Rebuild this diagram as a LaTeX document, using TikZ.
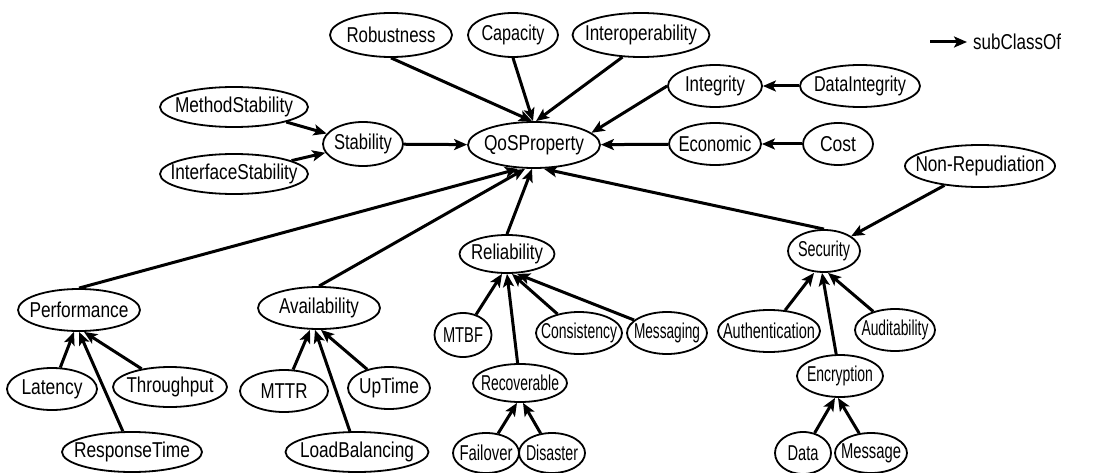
\documentclass[tikz,border=0pt]{standalone}
\usepackage{fontspec}
\usepackage{graphicx}
\setmainfont{Liberation Sans}
\usetikzlibrary{shapes.geometric,arrows.meta}
% label squeezed to a given width, taking no room of its own
\newcommand\nt[2]{\makebox[0pt]{\resizebox{#1pt}{\height}{#2}}}
\begin{document}
\begin{tikzpicture}[x=1pt,y=-1pt,
  cls/.style={ellipse, draw, line width=1.8pt, inner sep=0pt, fill=white,
              font=\fontsize{21.5}{24}\selectfont, minimum height=42pt},
  sub/.style={line width=3pt, -{Stealth[length=13pt,width=11pt,inset=3pt]}},
]
\fill[white] (0,0) rectangle (1099,473);
\useasboundingbox (0,0) rectangle (1099,473);

% top row
\node[cls, minimum width=122pt, minimum height=44pt] (rob)   at (391,35) {\nt{89}{Robustness}};
\node[cls, minimum width=90pt,  minimum height=44pt] (cap)   at (513,35) {\nt{63}{Capacity}};
\node[cls, minimum width=137pt, minimum height=44pt] (inter) at (641,35) {\nt{112}{Interoperability}};
% middle band
\node[cls, minimum width=94pt]  (integ)  at (715,86)  {\nt{60}{Integrity}};
\node[cls, minimum width=120pt] (dint)   at (860,86)  {\nt{92}{DataIntegrity}};
\node[cls, minimum width=92pt]  (econ)   at (715,144) {\nt{73}{Economic}};
\node[cls, minimum width=70pt]  (cost)   at (838,144) {\nt{36}{Cost}};
\node[cls, minimum width=150pt] (nonrep) at (980,166) {\nt{129}{Non-Repudiation}};
\node[cls, minimum width=132pt, minimum height=46pt] (qos)  at (534,145) {\nt{100}{QoSProperty}};
\node[cls, minimum width=80pt,  minimum height=44pt] (stab) at (363,144) {\nt{58}{Stability}};
\node[cls, minimum width=148pt, minimum height=40pt] (mstab) at (234,107) {\nt{118}{MethodStability}};
\node[cls, minimum width=148pt, minimum height=40pt] (istab) at (234,174) {\nt{127}{InterfaceStability}};
% performance branch
\node[cls, minimum width=122pt] (perf)  at (79,310)  {\nt{99}{Performance}};
\node[cls, minimum width=90pt]  (lat)   at (52,389)  {\nt{61}{Latency}};
\node[cls, minimum width=114pt, minimum height=40pt] (thr)  at (170,387) {\nt{87}{Throughput}};
\node[cls, minimum width=140pt, minimum height=40pt] (resp) at (132,452) {\nt{116}{ResponseTime}};
% availability branch
\node[cls, minimum width=122pt] (avail) at (319,308) {\nt{80}{Availability}};
\node[cls, minimum width=88pt]  (mttr)  at (284,391) {\nt{47}{MTTR}};
\node[cls, minimum width=82pt]  (up)    at (389,388) {\nt{60}{UpTime}};
\node[cls, minimum width=143pt, minimum height=40pt] (lb) at (357,452) {\nt{114}{LoadBalancing}};
% reliability branch
\node[cls, minimum width=95pt, minimum height=38pt] (rel) at (507,254) {\nt{72}{Reliability}};
\node[cls, minimum width=57pt, minimum height=44pt] (mtbf) at (463,335) {\nt{40}{MTBF}};
\node[cls, minimum width=86pt]  (cons)  at (579,333) {\nt{76}{Consistency}};
\node[cls, minimum width=80pt]  (msg)   at (667,333) {\nt{66}{Messaging}};
\node[cls, minimum width=94pt, minimum height=38pt] (recov) at (520,383) {\nt{78}{Recoverable}};
\node[cls, minimum width=66pt, minimum height=40pt] (fail) at (486,453) {\nt{53}{Failover}};
\node[cls, minimum width=66pt, minimum height=40pt] (dis)  at (552,453) {\nt{52}{Disaster}};
% security branch
\node[cls, minimum width=72pt]  (sec)   at (824,251) {\nt{52}{Security}};
\node[cls, minimum width=102pt] (auth)  at (769,331) {\nt{92}{Authentication}};
\node[cls, minimum width=80pt]  (aud)   at (895,330) {\nt{67}{Auditability}};
\node[cls, minimum width=86pt]  (enc)   at (840,376) {\nt{66}{Encryption}};
\node[cls, minimum width=56pt]  (data)  at (803,453) {\nt{31}{Data}};
\node[cls, minimum width=72pt, minimum height=40pt] (mes) at (871,453) {\nt{60}{Message}};

% legend
\coordinate (lgA) at (930,42);
\coordinate (lgB) at (967,42);
\draw[sub] (lgA) -- (lgB);
\node[anchor=west, inner sep=0pt, font=\fontsize{21.5}{24}\selectfont] (lgT) at (973,42)
  {\resizebox{88pt}{\height}{subClassOf}};

% subClassOf edges
\draw[sub] (rob.south)  -- ([xshift=-2pt]qos.north);
\draw[sub] (cap.south)  -- ([xshift=-1pt]qos.north);
\draw[sub] (inter.-130) -- ([xshift=2pt]qos.north);
\draw[sub] (integ.west) -- (qos.12);
\draw[sub] (econ)  -- (qos);
\draw[sub] (dint)  -- (integ);
\draw[sub] (cost)  -- (econ);
\draw[sub] (stab)  -- (qos);
\draw[sub] (mstab) -- (stab);
\draw[sub] (istab) -- (stab);
\draw[sub] (perf.north)  -- ([xshift=-16pt]qos.south);
\draw[sub] (avail.north) -- ([xshift=-9pt]qos.south);
\draw[sub] (rel.north)   -- ([xshift=-2pt]qos.south);
\draw[sub] (sec.north)   -- ([xshift=10pt]qos.south);
\draw[sub] (nonrep) -- (sec);

\draw[sub] (lat)  -- ([xshift=-5pt]perf.south);
\draw[sub] (resp) -- ([xshift=0pt]perf.south);
\draw[sub] (thr)  -- ([xshift=5pt]perf.south);

\draw[sub] (mttr) -- ([xshift=-9pt]avail.south);
\draw[sub] (lb)   -- ([xshift=-4pt]avail.south);
\draw[sub] (up)   -- ([xshift=2pt]avail.south);

\draw[sub] (mtbf)  -- ([xshift=-5pt]rel.south);
\draw[sub] (recov) -- ([xshift=0pt]rel.south);
\draw[sub] (cons)  -- ([xshift=5pt]rel.south);
\draw[sub] (msg)   -- ([xshift=10pt]rel.south);

\draw[sub] (fail) -- ([xshift=-3pt]recov.south);
\draw[sub] (dis)  -- ([xshift=3pt]recov.south);

\draw[sub] (auth) -- ([xshift=-10pt]sec.south);
\draw[sub] (enc)  -- ([xshift=-2pt]sec.south);
\draw[sub] (aud)  -- ([xshift=4pt]sec.south);

\draw[sub] (data) -- ([xshift=-5pt]enc.south);
\draw[sub] (mes)  -- ([xshift=-2pt]enc.south);
\end{tikzpicture}
\end{document}
